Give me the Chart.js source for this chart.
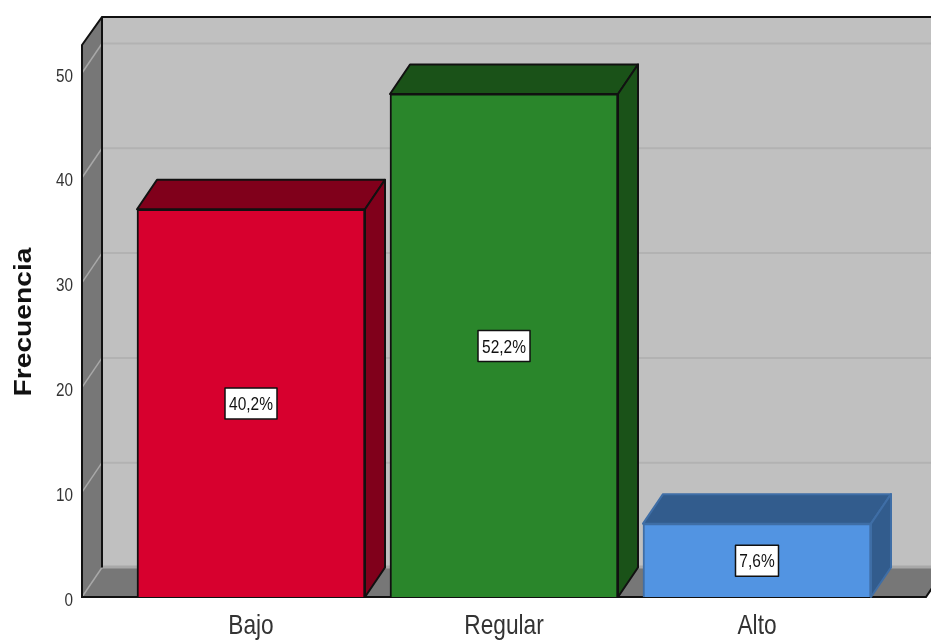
<!DOCTYPE html>
<html>
<head>
<meta charset="utf-8">
<style>html,body{margin:0;padding:0;background:#fff}#wrap{position:relative;width:931px;height:640px}canvas{display:block}</style>
<script src="https://cdn.jsdelivr.net/npm/chart.js@4"></script>
</head>
<body>
<div id="wrap"><canvas id="c"></canvas></div>
<script>
const categories = ['Bajo', 'Regular', 'Alto'];
const frequencies = [37, 48, 7];
const yTicks = [0, 10, 20, 30, 40, 50];
const yMax = 52.67;
const axisTitle = 'Frecuencia';
const frontColors = ['#D7002E', '#2A862B', '#5294E2'];
const sideColors = ['#80001B', '#1A5218', '#325C8D'];
const edgeColors = ['#111111', '#111111', '#3F6EA6'];

const SANS = '"Liberation Sans", Arial, sans-serif';
const STRETCH_Y = 1.19;   // all text is set slightly tall and condensed
const DEPTH_X = 20, DEPTH_Y = 29.5;
const FRAME_LEFT = 82, FRAME_RIGHT = 926;
const total = frequencies.reduce((a, b) => a + b, 0);
const percentText = v => (v / total * 100).toFixed(1).replace('.', ',') + '%';

function poly(ctx, pts, fill, stroke, lw) {
  ctx.beginPath();
  pts.forEach((p, i) => i ? ctx.lineTo(p[0], p[1]) : ctx.moveTo(p[0], p[1]));
  ctx.closePath();
  if (fill) { ctx.fillStyle = fill; ctx.fill(); }
  if (stroke) { ctx.strokeStyle = stroke; ctx.lineWidth = lw; ctx.lineJoin = 'round'; ctx.stroke(); }
}

// Text centred on (x, y), stretched vertically in page space
function tallText(ctx, text, x, y, font, color, align, rotated) {
  ctx.save();
  ctx.translate(x, y);
  ctx.scale(1, STRETCH_Y);
  if (rotated) ctx.rotate(-Math.PI / 2);
  ctx.font = font;
  ctx.fillStyle = color;
  ctx.textAlign = align || 'center';
  ctx.textBaseline = 'middle';
  ctx.fillText(text, 0, 0);
  ctx.restore();
}

const boxPlugin = {
  id: 'box3d',
  // Box walls, floor, value gridlines and axis text
  beforeDraw(chart) {
    const { ctx, chartArea: a, scales: { x, y } } = chart;
    const L = FRAME_LEFT, R = FRAME_RIGHT, T = a.top, B = a.bottom;
    const dx = DEPTH_X, dy = DEPTH_Y;
    const topBack = T - 28;
    ctx.save();
    poly(ctx, [[L + dx, topBack], [R + dx, topBack], [R + dx, B - dy], [L + dx, B - dy]], '#C0C0C0');
    poly(ctx, [[L, T], [L + dx, topBack], [L + dx, B - dy], [L, B]], '#777777');
    poly(ctx, [[L, B], [L + dx, B - dy], [R + dx, B - dy], [R, B]], '#777777');
    ctx.fillStyle = '#A8A8A8';
    ctx.fillRect(L + dx, B - dy - 2, R - L, 3);
    yTicks.forEach(t => {
      const py = y.getPixelForValue(t);
      ctx.strokeStyle = '#B2B2B2';
      ctx.lineWidth = 2;
      if (t > 0) {
        ctx.beginPath(); ctx.moveTo(L + dx, py - dy); ctx.lineTo(R + dx, py - dy); ctx.stroke();
      }
      ctx.strokeStyle = '#A8A8A8';
      ctx.lineWidth = 1.5;
      ctx.beginPath(); ctx.moveTo(L, py); ctx.lineTo(L + dx, py - dy); ctx.stroke();
    });
    ctx.strokeStyle = '#111111';
    ctx.lineWidth = 2;
    ctx.beginPath();
    ctx.moveTo(R + dx, topBack); ctx.lineTo(L + dx, topBack); ctx.lineTo(L, T); ctx.lineTo(L, B);
    ctx.lineTo(R, B); ctx.lineTo(R + dx, B - dy);
    ctx.moveTo(L + dx, topBack); ctx.lineTo(L + dx, B - dy);
    ctx.stroke();
    ctx.restore();

    yTicks.forEach(t => {
      tallText(ctx, String(t), 73, y.getPixelForValue(t) + 3.5, '15.3px ' + SANS, '#333333', 'right');
    });
    categories.forEach((c, i) => {
      tallText(ctx, c, x.getPixelForTick(i), 627, '22.7px ' + SANS, '#333333');
    });
    tallText(ctx, axisTitle, 24, 322, 'bold 23.7px ' + SANS, '#111111', 'center', true);
  },
  // Top and right faces of each bar
  beforeDatasetsDraw(chart) {
    const { ctx } = chart;
    const dx = DEPTH_X, dy = DEPTH_Y;
    chart.getDatasetMeta(0).data.forEach((bar, i) => {
      const p = bar.getProps(['x', 'y', 'base', 'width'], true);
      const l = p.x - p.width / 2, r = p.x + p.width / 2;
      poly(ctx, [[l, p.y], [l + dx, p.y - dy], [r + dx, p.y - dy], [r, p.y]], sideColors[i], edgeColors[i], 2);
      poly(ctx, [[r, p.y], [r + dx, p.y - dy], [r + dx, p.base - dy], [r, p.base]], sideColors[i], edgeColors[i], 2);
    });
  },
  // Percentage tags at the middle of each bar
  afterDatasetsDraw(chart) {
    const { ctx } = chart;
    chart.getDatasetMeta(0).data.forEach((bar, i) => {
      const p = bar.getProps(['x', 'y', 'base'], true);
      const text = percentText(frequencies[i]);
      const font = '15.5px ' + SANS;
      ctx.save();
      ctx.font = font;
      const w = Math.round(ctx.measureText(text).width) + 8, h = 31;
      const cy = (p.y + p.base) / 2 + 0.5;
      ctx.fillStyle = '#FFFFFF';
      ctx.fillRect(p.x - w / 2, cy - h / 2, w, h);
      ctx.strokeStyle = '#111111';
      ctx.lineWidth = 1.5;
      ctx.strokeRect(p.x - w / 2, cy - h / 2, w, h);
      ctx.restore();
      tallText(ctx, text, p.x, cy + 1.5, font, '#111111');
    });
  }
};

new Chart(document.getElementById('c'), {
  type: 'bar',
  data: {
    labels: categories,
    datasets: [{
      data: frequencies,
      backgroundColor: frontColors,
      borderColor: edgeColors,
      borderWidth: 2,
      barThickness: 228
    }]
  },
  plugins: [boxPlugin],
  options: {
    responsive: true,
    maintainAspectRatio: false,
    animation: false,
    devicePixelRatio: 1,
    layout: { padding: { top: 45, right: 47.5, bottom: 0, left: 0 } },
    plugins: { legend: { display: false }, tooltip: { enabled: false } },
    scales: {
      x: {
        grid: { display: false },
        border: { display: false },
        ticks: { display: false },
        afterFit(s) { s.height = 43; s.paddingLeft = 0; s.paddingRight = 0; }
      },
      y: {
        min: 0,
        max: yMax,
        grid: { display: false },
        border: { display: false },
        ticks: { display: false },
        afterBuildTicks(s) { s.ticks = yTicks.map(v => ({ value: v })); },
        afterFit(s) { s.width = 124.5; s.paddingTop = 0; s.paddingBottom = 0; }
      }
    }
  }
});
</script>
</body>
</html>
